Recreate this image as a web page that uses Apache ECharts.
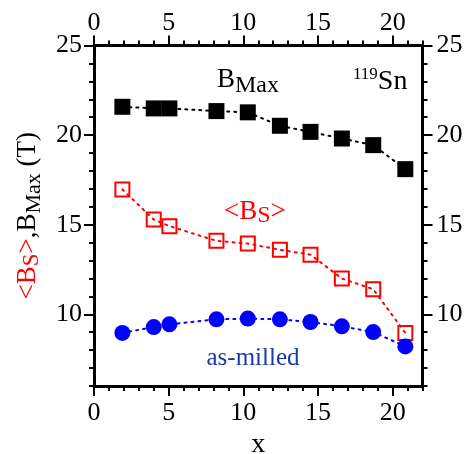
<!DOCTYPE html>
<html>
<head>
<meta charset="utf-8">
<script src="https://cdn.jsdelivr.net/npm/echarts@6/dist/echarts.min.js"></script>
<style>
  html, body { margin: 0; padding: 0; background: #fff; }
  #chart { width: 471px; height: 454px; }
</style>
</head>
<body>
<div id="chart"></div>
<script>
// composition x for every sample
const xVals = [1.9, 4.0, 5.05, 8.2, 10.3, 12.45, 14.5, 16.6, 18.7, 20.85];
const bMax = [21.58, 21.49, 21.49, 21.34, 21.27, 20.52, 20.18, 19.81, 19.44, 18.1];
const bS = [16.97, 15.29, 14.92, 14.1, 13.95, 13.6, 13.33, 12.0, 11.4, 8.96];
const asMilled = [8.96, 9.29, 9.44, 9.72, 9.76, 9.72, 9.57, 9.33, 9.01, 8.21];
const xTicks = [0, 5, 10, 15, 20];
const yTicks = [10, 15, 20, 25];

const font = 'Liberation Serif';
const pairs = ys => xVals.map((x, i) => [x, ys[i]]);

function minorAxis(pos, min, max) {
    return {
        type: 'value', position: pos, min: min, max: max, interval: 1,
        axisLine: { show: true, onZero: false, lineStyle: { color: '#000', width: 3 } },
        axisTick: { show: true, inside: false, length: 5, lineStyle: { color: '#000', width: 2 } },
        axisLabel: { show: false },
        splitLine: { show: false }
    };
}
function majorAxis(pos, min, max, ticks, margin) {
    return {
        type: 'value', position: pos, min: min, max: max,
        axisLine: { show: false, onZero: false },
        axisTick: { show: true, inside: false, length: 10, customValues: ticks,
            lineStyle: { color: '#000', width: 2 } },
        axisLabel: { show: true, customValues: ticks, margin: margin,
            fontFamily: font, fontSize: 26, color: '#000' },
        splitLine: { show: false }
    };
}

let xBottom = majorAxis('bottom', 0, 22, xTicks, 14);
xBottom.name = 'x';
xBottom.nameLocation = 'middle';
xBottom.nameGap = 45;
xBottom.nameTextStyle = { fontFamily: font, fontSize: 28, color: '#000' };

let yLeft = majorAxis('left', 6, 25, yTicks, 12);
yLeft.name = '{r|<B}{rs|S}{r|>}{k|,B}{ks|Max}{k| (T)}';
yLeft.nameLocation = 'middle';
yLeft.nameRotate = 90;
yLeft.nameGap = 46;
yLeft.nameTextStyle = {
    fontFamily: font,
    rich: {
        r: { fontFamily: font, fontSize: 27, color: '#ff0000' },
        rs: { fontFamily: font, fontSize: 23, color: '#ff0000', padding: [8, 0, 0, 0] },
        k: { fontFamily: font, fontSize: 27, color: '#000' },
        ks: { fontFamily: font, fontSize: 22, color: '#000', padding: [12, 0, 0, 0] }
    }
};

const dotted = [2, 5];

let option = {
    animation: false,
    backgroundColor: '#fff',
    grid: { left: 94, right: 48.5, top: 45.5, bottom: 68, outerBoundsMode: 'none' },
    xAxis: [
        minorAxis('bottom', 0, 22),
        xBottom,
        minorAxis('top', 0, 22),
        majorAxis('top', 0, 22, xTicks, 9)
    ],
    yAxis: [
        minorAxis('left', 6, 25),
        yLeft,
        minorAxis('right', 6, 25),
        majorAxis('right', 6, 25, yTicks, 14)
    ],
    series: [
        {
            name: 'BMax', type: 'line', xAxisIndex: 0, yAxisIndex: 0,
            data: pairs(bMax),
            symbol: 'rect', symbolSize: 16,
            itemStyle: { color: '#000' },
            lineStyle: { color: '#000', width: 2, type: dotted, cap: 'round' }
        },
        {
            name: 'Bs', type: 'line', xAxisIndex: 0, yAxisIndex: 0,
            data: pairs(bS),
            symbol: 'rect', symbolSize: 14,
            itemStyle: { color: 'rgba(0,0,0,0)', borderColor: '#ff0000', borderWidth: 2 },
            lineStyle: { color: '#ff0000', width: 2, type: dotted, cap: 'round' }
        },
        {
            name: 'as-milled', type: 'line', xAxisIndex: 0, yAxisIndex: 0,
            data: pairs(asMilled),
            symbol: 'circle', symbolSize: 16,
            itemStyle: { color: '#0000ff' },
            lineStyle: { color: '#0000ff', width: 2, type: dotted, cap: 'round' }
        }
    ],
    graphic: [
        {
            type: 'text', x: 217, y: 80,
            style: {
                text: '{b|B}{s|Max}', verticalAlign: 'middle', align: 'left',
                rich: {
                    b: { fontFamily: font, fontSize: 27, fill: '#000' },
                    s: { fontFamily: font, fontSize: 24, fill: '#000', padding: [12, 0, 0, 0] }
                }
            }
        },
        {
            type: 'text', x: 353, y: 82,
            style: {
                text: '{p|119}{b|Sn}', verticalAlign: 'middle', align: 'left',
                rich: {
                    p: { fontFamily: font, fontSize: 17, fill: '#000', padding: [0, 0, 14, 0] },
                    b: { fontFamily: font, fontSize: 28, fill: '#000' }
                }
            }
        },
        {
            type: 'text', x: 224, y: 212,
            style: {
                text: '{b|<B}{s|S}{b|>}', verticalAlign: 'middle', align: 'left',
                rich: {
                    b: { fontFamily: font, fontSize: 27, fill: '#ff0000' },
                    s: { fontFamily: font, fontSize: 24, fill: '#ff0000', padding: [8, 0, 0, 0] }
                }
            }
        },
        {
            type: 'text', x: 253, y: 358,
            style: {
                text: 'as-milled', align: 'center', verticalAlign: 'middle',
                fontFamily: font, fontSize: 25, fill: '#1a3aa8'
            }
        }
    ]
};

let myChart = echarts.init(document.getElementById('chart'));
myChart.setOption(option);
</script>
</body>
</html>
